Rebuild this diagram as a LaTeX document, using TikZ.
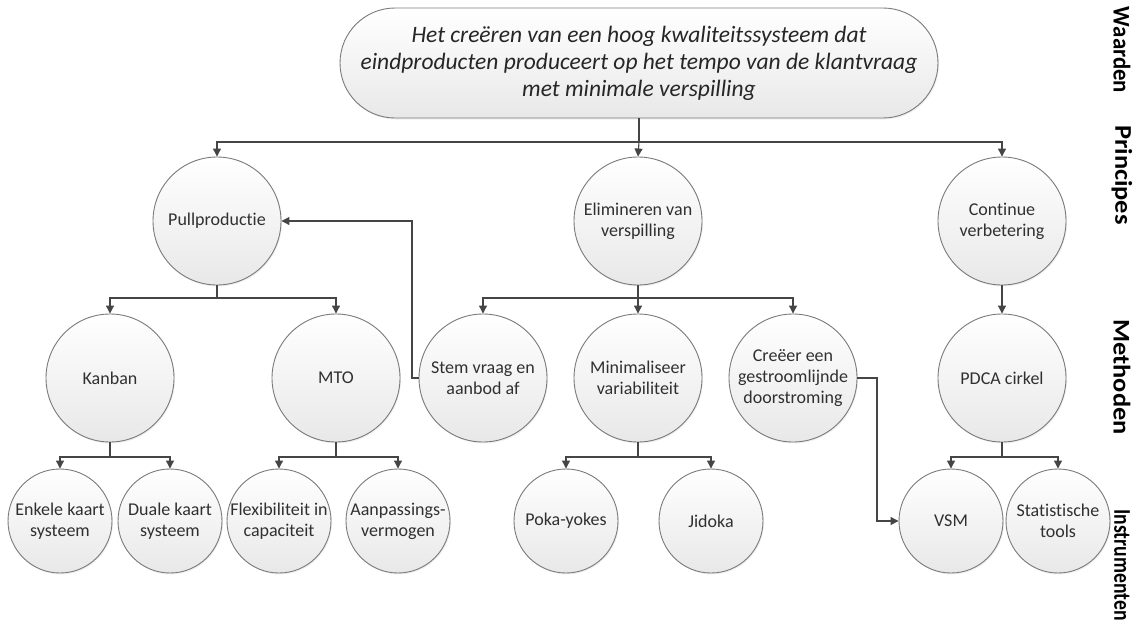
\documentclass[tikz,border=0pt]{standalone}
\usepackage{fontspec}
\setmainfont{Carlito}[Ligatures=NoCommon]
\usetikzlibrary{arrows.meta,shadows}
\definecolor{edgegray}{HTML}{7A7A7A}
\definecolor{linegray}{HTML}{454545}
\definecolor{txtgray}{HTML}{303030}
\begin{document}
\begin{tikzpicture}[x=1pt,y=-1pt,
  bubble/.style={circle,draw=edgegray,line width=0.9pt,top color=white,bottom color=black!9,
    inner sep=0pt,align=center,text=txtgray,font=\fontsize{18}{21}\selectfont,
    drop shadow={opacity=0.12,shadow xshift=1pt,shadow yshift=-1.5pt}},
  bigbubble/.style={bubble,minimum size=128pt},
  smallbubble/.style={bubble,minimum size=104pt},
  goal/.style={draw=edgegray,line width=0.9pt,rounded corners=55pt,top color=white,bottom color=black!9,
    minimum width=598pt,minimum height=110pt,inner sep=0pt,align=center,text=black!85,
    font=\fontsize{23.5}{27}\selectfont\itshape,
    drop shadow={opacity=0.12,shadow xshift=1pt,shadow yshift=-1.5pt}},
  link/.style={draw=linegray,line width=1.1pt},
  arr/.style={link,-{Triangle[length=8pt,width=8pt]}},
  lbl/.style={rotate=-90,font=\fontsize{24}{28}\selectfont\bfseries,text=black}]
\useasboundingbox (0,0) rectangle (1138,621);

% values
\node[goal] (goal) at (639,63) {Het creëren van een hoog kwaliteitssysteem dat\\eindproducten produceert op het tempo van de klantvraag\\met minimale verspilling};

% principles
\node[bigbubble] (pull) at (217,221) {Pullproductie};
\node[bigbubble] (elim) at (638,221) {Elimineren van\\verspilling};
\node[bigbubble] (cont) at (1002,221) {Continue\\verbetering};

% methods
\node[bigbubble] (kanban) at (110,378) {Kanban};
\node[bigbubble] (mto) at (336,378) {MTO};
\node[bigbubble] (stem) at (483,378) {Stem vraag en\\aanbod af};
\node[bigbubble] (mini) at (638,378) {Minimaliseer\\variabiliteit};
\node[bigbubble] (creeer) at (793,378) {Creëer een\\gestroomlijnde\\doorstroming};
\node[bigbubble] (pdca) at (1002,378) {PDCA cirkel};

% instruments
\node[smallbubble] (enkele) at (60,521) {Enkele kaart\\systeem};
\node[smallbubble] (duale) at (170,521) {Duale kaart\\systeem};
\node[smallbubble] (flex) at (279,521) {Flexibiliteit in\\capaciteit};
\node[smallbubble] (aanp) at (398,521) {Aanpassings-\\vermogen};
\node[smallbubble] (poka) at (566,521) {Poka-yokes};
\node[smallbubble] (jidoka) at (711,521) {Jidoka};
\node[smallbubble] (vsm) at (951,521) {VSM};
\node[smallbubble] (stat) at (1058,521) {Statistische\\tools};

% level labels
\node[lbl] (lw) at (1122,50) {\scalebox{0.95}[1]{Waarden}};
\node[lbl] (lp) at (1122,175) {\scalebox{1.1}[1]{Principes}};
\node[lbl] (lm) at (1122,377) {\scalebox{1.1}[1]{Methoden}};
\node[lbl] (li) at (1122,565) {\scalebox{0.82}[1]{Instrumenten}};

% junction points of the tree
\coordinate (j0) at (639,142);
\coordinate (j1) at (217,298);
\coordinate (j2) at (638,298);
\coordinate (j3) at (110,457);
\coordinate (j4) at (336,457);
\coordinate (j5) at (638,457);
\coordinate (j6) at (1002,457);
\coordinate (s1) at (412,378);
\coordinate (c1) at (877,378);

% tree connectors
\draw[link] (goal.south) -- (j0);
\draw[arr] (j0) -| (pull.north);
\draw[arr] (j0) -- (elim.north);
\draw[arr] (j0) -| (cont.north);

\draw[link] (pull.south) -- (j1);
\draw[arr] (j1) -| (kanban.north);
\draw[arr] (j1) -| (mto.north);

\draw[link] (elim.south) -- (j2);
\draw[arr] (j2) -| (stem.north);
\draw[arr] (j2) -- (mini.north);
\draw[arr] (j2) -| (creeer.north);

\draw[arr] (cont.south) -- (pdca.north);

\draw[link] (kanban.south) -- (j3);
\draw[arr] (j3) -| (enkele.north);
\draw[arr] (j3) -| (duale.north);

\draw[link] (mto.south) -- (j4);
\draw[arr] (j4) -| (flex.north);
\draw[arr] (j4) -| (aanp.north);

\draw[link] (mini.south) -- (j5);
\draw[arr] (j5) -| (poka.north);
\draw[arr] (j5) -| (jidoka.north);

\draw[link] (pdca.south) -- (j6);
\draw[arr] (j6) -| (vsm.north);
\draw[arr] (j6) -| (stat.north);

% cross links
\draw[arr] (stem.west) -- (s1) |- (pull.east);
\draw[arr] (creeer.east) -- (c1) |- (vsm.west);
\end{tikzpicture}
\end{document}
